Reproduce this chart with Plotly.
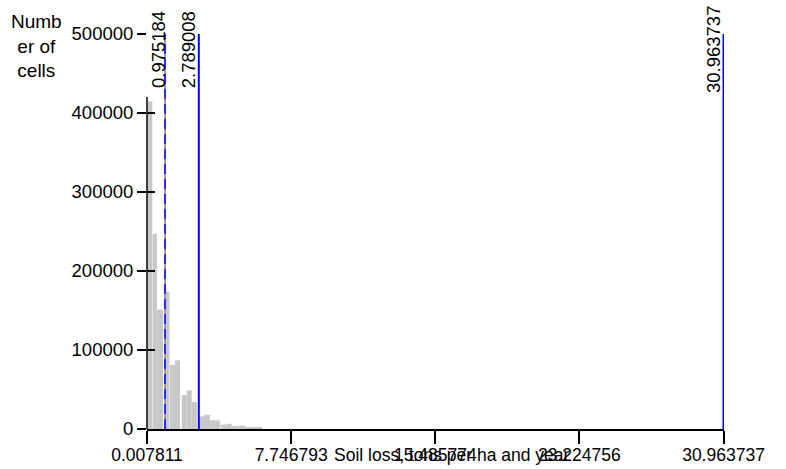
import plotly.graph_objects as go

# Histogram of soil loss (tons per ha and year), class counts per bin
bin_left = [0.035, 0.314, 0.540, 0.975, 1.243, 1.512, 1.872, 2.140, 2.409,
            2.817, 3.070, 3.392, 3.660, 3.956, 4.289, 4.557, 4.912, 5.272, 5.701]
bin_right = [0.293, 0.540, 0.867, 1.216, 1.512, 1.780, 2.140, 2.409, 2.688,
             3.070, 3.392, 3.660, 3.929, 4.289, 4.557, 4.912, 5.272, 5.701, 6.185]
cell_count = [415000, 247000, 151000, 174000, 81000, 87000, 43000, 49000, 34000,
              16000, 18000, 11000, 11000, 5500, 6700, 4000, 4500, 2500, 2500]

# Class break values marked on the histogram
mean_value = 0.975184
break_values = [2.789008, 30.963737]

x_ticks = [0.007811, 7.746793, 15.485774, 23.224756, 30.963737]
y_ticks = [0, 100000, 200000, 300000, 400000, 500000]

x_min, x_max = 0.007811, 30.99
y_max = 500000

# plot-area geometry in pixels
L, R, T, B = 147, 62.2, 34, 39.5
PW = 786 - L - R
PH = 469 - T - B

AX_FONT = "Liberation Sans, Arial, sans-serif"

centers = [(a + b) / 2 for a, b in zip(bin_left, bin_right)]
widths = [b - a for a, b in zip(bin_left, bin_right)]

fig = go.Figure()

fig.add_trace(go.Bar(
    x=centers, y=cell_count, width=widths,
    marker=dict(color="#c8c8c8", line=dict(width=0)),
    hoverinfo="skip", showlegend=False,
))

# dashed mean line: grey underlay with blue dashes on top
fig.add_trace(go.Scatter(
    x=[mean_value, mean_value], y=[0, y_max], mode="lines",
    line=dict(color="#9a9a9a", width=2), hoverinfo="skip", showlegend=False,
))
fig.add_trace(go.Scatter(
    x=[mean_value, mean_value], y=[0, y_max], mode="lines",
    line=dict(color="#2a2aff", width=2, dash="10px,5px"),
    hoverinfo="skip", showlegend=False,
))
for v in break_values:
    fig.add_trace(go.Scatter(
        x=[v, v], y=[0, y_max], mode="lines",
        line=dict(color="#0000ff", width=2), hoverinfo="skip", showlegend=False,
    ))

# rotated value labels above each line
label_shift = {mean_value: -7}
for v in [mean_value] + break_values:
    fig.add_annotation(
        x=v, y=y_max, xref="x", yref="y", text=f"{v:.6f}",
        textangle=-90, showarrow=False, xanchor="center", yanchor="middle",
        xshift=label_shift.get(v, -10.5), yshift=-16,
        font=dict(family=AX_FONT, size=18.5, color="#000000"),
    )

# y-axis title, wrapped, at the top-left
fig.add_annotation(
    x=(37 - L) / PW, y=(469 - B - 46) / PH, xref="paper", yref="paper",
    text="Numb<br>er of<br>cells",
    showarrow=False, font=dict(family=AX_FONT, size=19, color="#000000"),
    xanchor="center", yanchor="middle",
)

# x-axis title
fig.add_annotation(
    x=(452 - L) / PW, y=0, xref="paper", yref="paper",
    text="Soil loss, tons per ha and year", showarrow=False,
    yshift=-25.5, xanchor="center", yanchor="middle",
    font=dict(family=AX_FONT, size=17.5, color="#000000"),
)

# vertical axis line (stops below the first label)
fig.add_shape(
    type="line", xref="paper", yref="paper", x0=0, x1=0, y0=0,
    y1=(469 - B - 97) / PH, line=dict(color="#000000", width=1.5), layer="above",
)

fig.update_layout(
    width=786, height=469,
    margin=dict(l=L, r=R, t=T, b=B),
    paper_bgcolor="white", plot_bgcolor="white",
    barmode="overlay",
    xaxis=dict(
        range=[x_min, x_max], tickvals=x_ticks,
        ticktext=[f"{t:.6f}" for t in x_ticks],
        ticks="outside", ticklen=13, tickcolor="#000000", tickwidth=1.5,
        showline=True, linecolor="#000000", linewidth=1.5,
        showgrid=False, zeroline=False, automargin=False,
        ticklabelstandoff=-4,
        tickfont=dict(family=AX_FONT, size=17.5, color="#000000"),
    ),
    yaxis=dict(
        range=[0, y_max], tickvals=y_ticks,
        ticktext=[str(t) for t in y_ticks],
        ticks="outside", ticklen=9, tickcolor="#000000", tickwidth=1.5,
        showline=False, showgrid=False, zeroline=False, automargin=False,
        tickfont=dict(family=AX_FONT, size=18.5, color="#000000"),
    ),
    yaxis2=dict(
        range=[0, y_max], overlaying="y", anchor="x", side="left",
        tickvals=y_ticks[:-1], ticks="inside", ticklen=8,
        tickcolor="#000000", tickwidth=1.5, showticklabels=False,
        showline=False, showgrid=False, zeroline=False, automargin=False,
    ),
)

# the overlay axis needs at least one trace to be drawn
fig.add_trace(go.Scatter(x=[None], y=[None], yaxis="y2", showlegend=False,
                         hoverinfo="skip"))

fig.write_html("out.html")
